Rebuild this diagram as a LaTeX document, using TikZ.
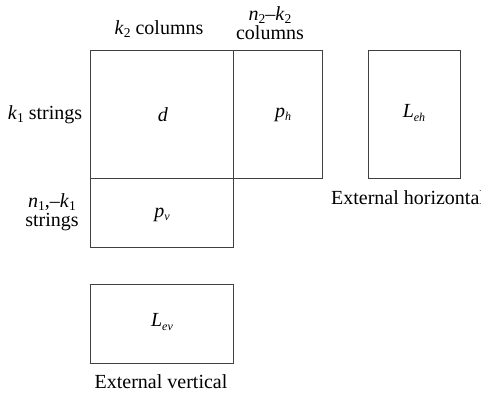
\documentclass[tikz,border=0pt]{standalone}
\usepackage{fontspec}
\setmainfont{Liberation Serif}
\newcommand{\isub}[1]{\raisebox{-0.35ex}{\fontsize{12}{13}\selectfont\itshape #1}}
\newcommand{\nsub}[1]{\raisebox{-0.35ex}{\fontsize{13.5}{14}\selectfont #1}}
\begin{document}
\begin{tikzpicture}[x=1pt,y=-1pt,
  cell/.style={draw=black!75,line width=0.8pt,inner sep=0pt,outer sep=0pt},
  lbl/.style={inner sep=0pt,font=\fontsize{20}{19}\selectfont,align=center}]
\useasboundingbox (0,0) rectangle (481,394);
% main block
\node[cell,minimum width=142.5pt,minimum height=128pt,anchor=north west] (d) at (90.5,50) {};
\node[cell,minimum width=89pt,minimum height=128pt,anchor=north west] (ph) at (233,50) {};
\node[cell,minimum width=142.5pt,minimum height=69pt,anchor=north west] (pv) at (90.5,178) {};
% external boxes
\node[cell,minimum width=92pt,minimum height=128pt,anchor=north west] (leh) at (368,50) {};
\node[cell,minimum width=142.5pt,minimum height=79pt,anchor=north west] (lev) at (90.5,284) {};
% cell contents
\node[lbl] (dt) at (163,115) {\textit{d}};
\node[lbl] (pht) at (283,115) {\textit{p}\isub{h}};
\node[lbl] (pvt) at (162,215) {\textit{p}\isub{v}};
\node[lbl] (leht) at (414,113) {\textit{L}\isub{eh}};
\node[lbl] (levt) at (162,322) {\textit{L}\isub{ev}};
% headings
\node[lbl] (k2c) at (159,29) {\textit{k}\nsub{2} columns};
\node[lbl] (n2k2) at (270,23) {\textit{n}\nsub{2}–\textit{k}\nsub{2}\\columns};
\node[lbl] (k1s) at (45,115) {\textit{k}\nsub{1} strings};
\node[lbl] (n1k1) at (52,212) {\textit{n}\nsub{1},–\textit{k}\nsub{1}\\strings};
\node[lbl] (exth) at (408,198) {External horizontal};
\node[lbl] (extv) at (161,382) {External vertical};
\end{tikzpicture}
\end{document}
